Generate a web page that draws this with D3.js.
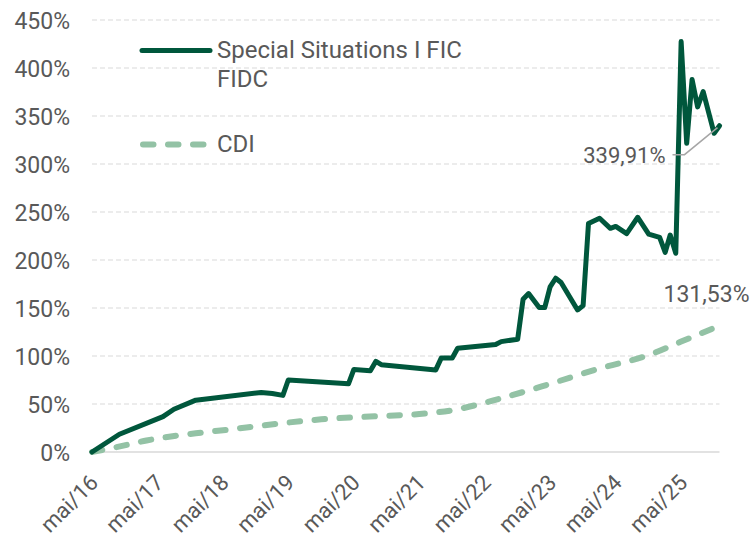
<!DOCTYPE html>
<html>
<head>
<meta charset="utf-8">
<script src="https://cdn.jsdelivr.net/npm/d3@7"></script>
<style>
  html, body { margin: 0; padding: 0; background: #fff; }
  svg { display: block; font-family: Roboto, "Noto Sans", sans-serif; }
</style>
</head>
<body>
<svg id="chart" width="753" height="539"></svg>
<script>
// ---- Data ----
const fundName = "Special Situations I FIC FIDC";
const cdiName = "CDI";

const fundDates = ["2016-05","2016-10","2017-06","2017-08","2017-12","2018-12","2019-02","2019-04","2019-05",
  "2020-04","2020-05","2020-08","2020-09","2020-10","2021-08","2021-09","2021-11","2021-12","2022-07",
  "2022-08","2022-11","2022-12","2023-01","2023-03","2023-04","2023-05","2023-06","2023-07","2023-10",
  "2023-11","2023-12","2024-02","2024-04","2024-05","2024-07","2024-09","2024-11","2025-01","2025-02",
  "2025-03","2025-04","2025-05","2025-06","2025-07","2025-08","2025-09","2025-11","2025-12"];
const fundValues = [0,18.5,36.8,44.5,54,62,61,59,75,
  71,86,84.7,94.5,91,85.5,98,98,108,112,
  115,117.5,159,165,150.5,150.5,172,181,176.5,148,
  152.5,238,243.5,233,235,227.5,244.5,227,223.5,208,
  226,207,427.5,321.5,388,359.5,375.5,332,339.91];

const cdiDates = ["2016-05","2016-09","2017-03","2017-12","2018-07","2018-12","2019-11","2020-10",
  "2021-05","2021-11","2022-08","2023-05","2024-02","2024-11","2025-05","2025-12"];
const cdiValues = [0,4.5,12,19.5,24,27.5,34,37.5,39.5,43.5,56,71,87,101,115,131.53];

const yTicks = [0,50,100,150,200,250,300,350,400,450];
const xTickDates = ["2016-05","2017-05","2018-05","2019-05","2020-05","2021-05","2022-05","2023-05","2024-05","2025-05"];
const xTickLabels = ["mai/16","mai/17","mai/18","mai/19","mai/20","mai/21","mai/22","mai/23","mai/24","mai/25"];

// ---- Layout ----
const W = 753, H = 539;
const margin = {left: 92, right: 33.5, top: 20, bottom: 87};
const parse = d3.timeParse("%Y-%m");
const fmtPct = v => d3.format(",.2f")(v).replace(".", ",") + "%";

const fund = fundDates.map((d, i) => ({date: parse(d), value: fundValues[i]}));
const cdi = cdiDates.map((d, i) => ({date: parse(d), value: cdiValues[i]}));

const x = d3.scaleTime()
  .domain([parse("2016-05"), parse("2025-12")])
  .range([margin.left, W - margin.right]);
const y = d3.scaleLinear()
  .domain([0, 450])
  .range([H - margin.bottom, margin.top]);

const svg = d3.select("#chart");
const textColor = "#595959";
const fundColor = "#00573c";
const cdiColor = "#93c2a5";
const fs = "23px";

// Gridlines
svg.append("g")
  .selectAll("line")
  .data(yTicks.filter(t => t > 0))
  .join("line")
  .attr("x1", margin.left).attr("x2", W - margin.right)
  .attr("y1", d => y(d)).attr("y2", d => y(d))
  .attr("stroke", "#d9d9d9").attr("stroke-width", 1)
  .attr("stroke-dasharray", "5,3");

// Baseline
svg.append("line")
  .attr("x1", margin.left).attr("x2", W - margin.right)
  .attr("y1", y(0)).attr("y2", y(0))
  .attr("stroke", "#d9d9d9").attr("stroke-width", 1.5);

// Y axis
const yAxis = d3.axisLeft(y).tickValues(yTicks).tickSize(0).tickPadding(0)
  .tickFormat(d => d + "%");
const gy = svg.append("g").attr("transform", `translate(${margin.left - 22},0)`).call(yAxis);
gy.select(".domain").remove();
gy.selectAll("text").attr("fill", textColor).style("font-size", fs)
  .style("font-family", "Roboto").attr("dy", "0.36em");

// X axis
const xAxis = d3.axisBottom(x).tickValues(xTickDates.map(parse)).tickSize(0)
  .tickFormat((d, i) => xTickLabels[i]);
const gx = svg.append("g").attr("transform", `translate(0,${H - margin.bottom})`).call(xAxis);
gx.select(".domain").remove();
gx.selectAll("text")
  .attr("fill", textColor).style("font-size", "22px").style("font-family", "Roboto")
  .attr("text-anchor", "end")
  .attr("dy", null).attr("y", null)
  .attr("transform", "translate(7,32) rotate(-45)");

// Lines
const line = d3.line().x(d => x(d.date)).y(d => y(d.value));
const smooth = d3.line().x(d => x(d.date)).y(d => y(d.value)).curve(d3.curveMonotoneX);

svg.append("path").datum(cdi)
  .attr("d", smooth).attr("fill", "none")
  .attr("stroke", cdiColor).attr("stroke-width", 6)
  .attr("stroke-linecap", "round").attr("stroke-dasharray", "10.5,14.5");

svg.append("path").datum(fund)
  .attr("d", line).attr("fill", "none")
  .attr("stroke", fundColor).attr("stroke-width", 5)
  .attr("stroke-linejoin", "round").attr("stroke-linecap", "round");

// End labels
const lastF = fund[fund.length - 1];
const lastC = cdi[cdi.length - 1];
const fx = x(lastF.date), fy = y(lastF.value);
svg.append("path")
  .attr("d", `M${fx - 47},${fy + 29} L${fx - 35},${fy + 29} L${fx - 2},${fy + 2}`)
  .attr("fill", "none").attr("stroke", "#a6a6a6").attr("stroke-width", 1.5);
svg.append("text").attr("x", fx - 54).attr("y", fy + 37)
  .attr("text-anchor", "end").attr("fill", textColor).style("font-size", "22px")
  .text(fmtPct(lastF.value));

const cx = x(lastC.date), cy = y(lastC.value);
svg.append("text").attr("x", cx + 30).attr("y", cy - 24)
  .attr("text-anchor", "end").attr("fill", textColor).style("font-size", fs)
  .text(fmtPct(lastC.value));

// Legend
const lg = svg.append("g");
lg.append("line").attr("x1", 142).attr("x2", 210).attr("y1", 50.5).attr("y2", 50.5)
  .attr("stroke", fundColor).attr("stroke-width", 5).attr("stroke-linecap", "round");
const lt = lg.append("text").attr("x", 217).attr("y", 58).attr("fill", textColor).style("font-size", "24px");
lt.append("tspan").attr("x", 217).text("Special Situations I FIC");
lt.append("tspan").attr("x", 217).attr("dy", 29).text("FIDC");

lg.append("line").attr("x1", 143).attr("x2", 204).attr("y1", 144.5).attr("y2", 144.5)
  .attr("stroke", cdiColor).attr("stroke-width", 6).attr("stroke-linecap", "round")
  .attr("stroke-dasharray", "10.5,14.5");
lg.append("text").attr("x", 217).attr("y", 152).attr("fill", textColor).style("font-size", "24px")
  .text(cdiName);
</script>
</body>
</html>
